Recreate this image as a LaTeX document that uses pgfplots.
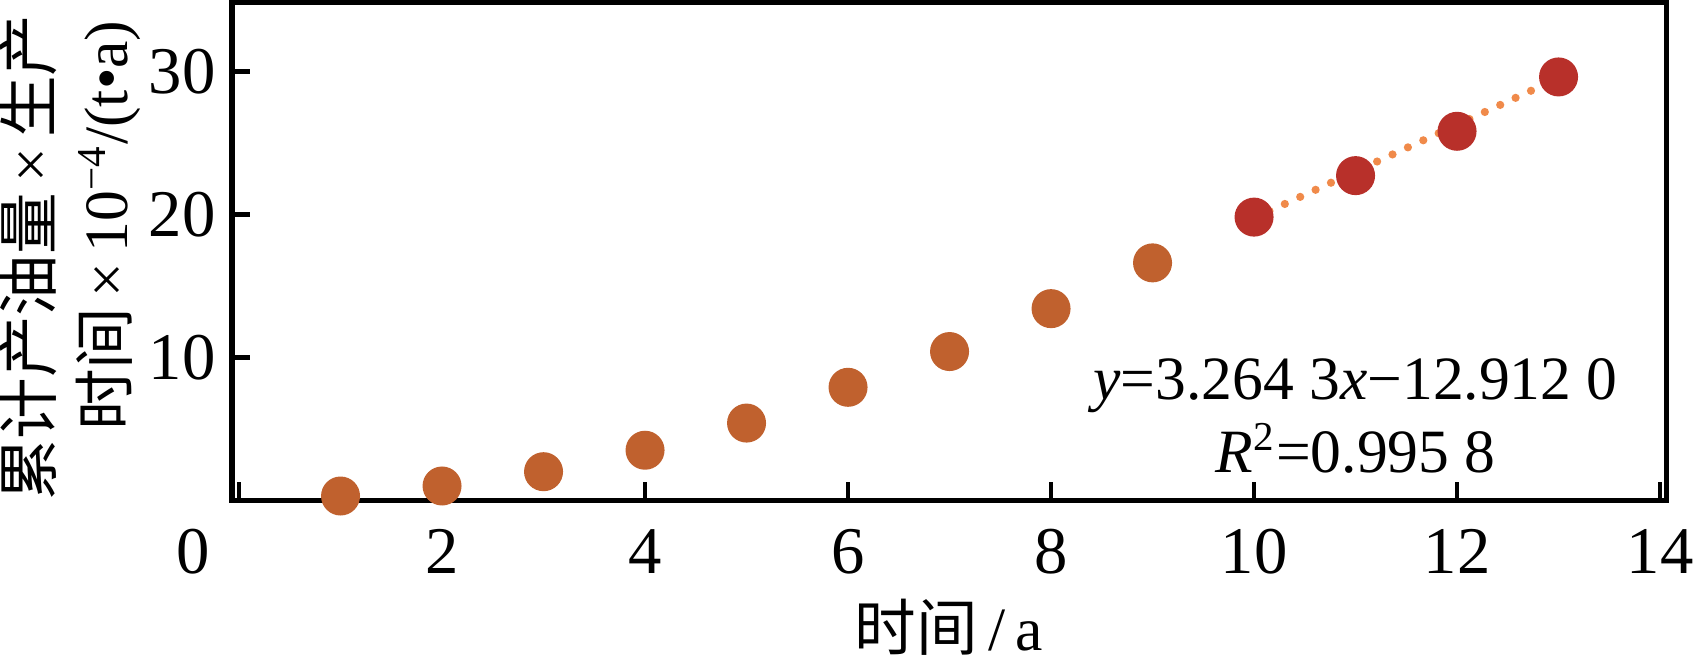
\documentclass[border=0pt]{standalone}
\usepackage{fontspec}
\setmainfont{Liberation Serif}
\newfontfamily\cjk{Noto Sans CJK SC}
\usepackage{pgfplots}
\pgfplotsset{compat=1.18}
\definecolor{dotbrown}{HTML}{C0612E}
\definecolor{dotred}{HTML}{B8302A}
\definecolor{fitor}{HTML}{F08A4A}
\begin{document}
\fontsize{12}{14}\selectfont
\begin{tikzpicture}
\begin{axis}[
  scale only axis, width=279.5pt, height=97pt,
  xmin=-0.07, xmax=14.06, ymin=0, ymax=34.8,
  axis line style={line width=1pt},
  every tick/.style={black, line width=0.9pt},
  major tick length=3.5pt,
  tick align=inside, xtick pos=left, ytick pos=left,
  xtick={0,2,...,14},
  xticklabels={\makebox[0pt][r]{0\hspace{5.7pt}},2,4,6,8,10,12,14},
  ytick={10,20,30},
  /pgf/number format/assume math mode=true,
  tick label style={font=\fontsize{13}{15}\selectfont},
  yticklabel style={xshift=1.0pt},
  xticklabel style={yshift=-1.5pt, inner xsep=0pt},
  clip=false, axis on top,
]
\addplot[only marks, mark=*, mark size=3.6pt, color=dotbrown] coordinates {
  (1,0.3) (2,1.0) (3,2.0) (4,3.5) (5,5.4) (6,7.9) (7,10.4) (8,13.4) (9,16.6)
};
\addplot[only marks, mark=*, mark size=3.6pt, color=dotred] coordinates {
  (10,19.8) (11,22.7) (12,25.8) (13,29.6)
};
\addplot[fitor, line width=1.6pt, line cap=round, dash pattern=on 0pt off 3.3pt] coordinates {
  (10,19.73) (13,29.52)
};
\node[align=center, font=\fontsize{12}{14.2}\selectfont] at (axis cs:11.0,5.9)
  {\textit{y}=3.264 3\textit{x}−12.912 0\\\textit{R}\textsuperscript{2}=0.995 8};
\node[rotate=90, align=center, inner sep=0pt, font=\fontsize{12}{14.7}\selectfont] at ([xshift=-31.5pt, yshift=-1.2pt]rel axis cs:0,0.5)
  {{\cjk 累计产油量}\,×\,{\cjk 生产}\\\hspace*{12.4pt}{\cjk 时间}\,×\,10\textsuperscript{−4}/(t•a)};
\node[inner xsep=0pt, inner ysep=2pt, font=\fontsize{12}{14}\selectfont] at ([yshift=-24.8pt]rel axis cs:0.5,0)
  {{\cjk 时间}\,/\,a};
\end{axis}
\pgfresetboundingbox
\path[use as bounding box] ([xshift=-45.2pt,yshift=-33.3pt]current axis.south west) rectangle ([xshift=6.6pt,yshift=0.5pt]current axis.north east);
\end{tikzpicture}
\end{document}
